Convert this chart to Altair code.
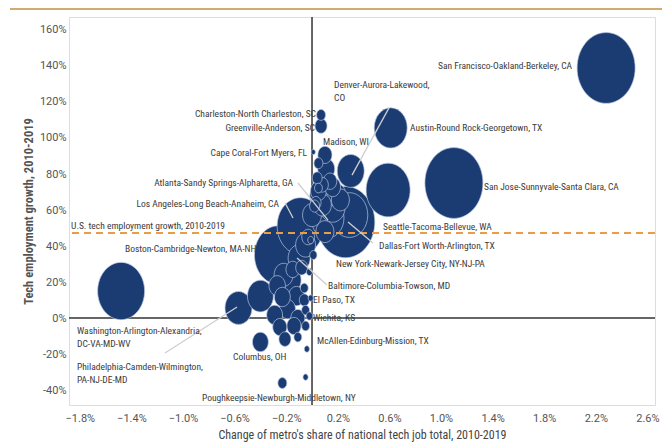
import altair as alt
import pandas as pd

# ---- metro data: change in share of national tech jobs (pp), tech job growth (%), tech jobs (thousands)
metros = [
    "San Francisco-Oakland-Berkeley, CA", "San Jose-Sunnyvale-Santa Clara, CA",
    "Seattle-Tacoma-Bellevue, WA", "Austin-Round Rock-Georgetown, TX",
    "Washington-Arlington-Alexandria, DC-VA-MD-WV", "New York-Newark-Jersey City, NY-NJ-PA",
    "Boston-Cambridge-Newton, MA-NH", "Los Angeles-Long Beach-Anaheim, CA",
    "Dallas-Fort Worth-Arlington, TX", "Atlanta-Sandy Springs-Alpharetta, GA",
    "Denver-Aurora-Lakewood, CO", "Philadelphia-Camden-Wilmington, PA-NJ-DE-MD",
    "Chicago-Naperville-Elgin, IL-IN-WI", "Baltimore-Columbia-Towson, MD",
    "Columbus, OH", "Madison, WI", "Charleston-North Charleston, SC",
    "Greenville-Anderson, SC", "Cape Coral-Fort Myers, FL",
    "Poughkeepsie-Newburgh-Middletown, NY", "McAllen-Edinburg-Mission, TX",
    "El Paso, TX", "Wichita, KS",
    "m24", "m25", "m26", "m27", "m28", "m29", "m30", "m31", "m32", "m33", "m34",
    "m35", "m36", "m37", "m38", "m39", "m40", "m41", "m42", "m43", "m44", "m45",
    "m46", "m47", "m48", "m49", "m50", "m51", "m52", "m53", "m54", "m55", "m56",
    "m57", "m58", "m59", "m60", "m61", "m62", "m63", "m64",
]
share_change = [
    2.28, 1.10, 0.59, 0.61, -1.48, 0.26, -0.26, -0.09, 0.29, 0.12, 0.30, -0.57,
    -0.40, -0.10, -0.40, 0.10, 0.07, 0.07, 0.01, -0.23, -0.04, -0.01, -0.02,
    -0.05, -0.21, -0.11, 0.11, 0.04, 0.06, 0.19, 0.02, 0.16, 0.05, -0.17, -0.12,
    -0.06, -0.19, -0.11, -0.05, -0.14, -0.05, -0.25, -0.06, -0.02, -0.01, -0.05,
    0.00, -0.22, 0.05, 0.08, 0.14, 0.03, 0.10, -0.03, -0.08, -0.15, -0.27, 0.01,
    0.05, 0.16, 0.08, 0.22, -0.29, -0.23,
]
growth = [
    138.9, 75.0, 71.1, 105.6, 15.0, 53.3, 35.0, 51.1, 57.2, 55.6, 81.7, 5.6,
    12.2, 33.3, -13.3, 90.6, 112.8, 106.7, 92.2, -36.1, -17.2, 11.1, 1.1,
    -32.8, -11.7, -10.6, 82.8, 77.8, 67.8, 68.3, 62.2, 61.7, 72.2, 21.1, 12.2,
    10.0, 5.0, 0.0, 4.4, -4.4, -4.4, -5.0, 16.7, 25.6, 43.3, 40.6, 57.2, 24.0,
    86.0, 74.0, 76.0, 64.0, 48.0, 45.0, 28.0, 27.0, 18.0, 35.0,
    70.6, 72.8, 62.8, 65.6, 1.7, 11.7,
]
tech_jobs = [
    374, 374, 215, 121, 245, 380, 256, 240, 150, 121, 81, 81,
    75, 54, 28, 22, 9, 16, 2, 9, 3, 3, 5,
    3, 16, 7, 32, 11, 44, 40, 11, 70, 7, 54, 28,
    11, 28, 22, 7, 22, 7, 22, 7, 4, 4, 44, 40, 40,
    9, 16, 20, 12, 36, 18, 16, 20, 30, 6,
    28, 28, 36, 36, 28, 28,
]

us_growth = 47.2

# ---- labels (text, x, y, alignment)
label_text = [
    "San Francisco-Oakland-Berkeley, CA", "Denver-Aurora-Lakewood,", "CO",
    "Austin-Round Rock-Georgetown, TX", "Madison, WI",
    "Charleston-North Charleston, SC", "Greenville-Anderson, SC",
    "Cape Coral-Fort Myers, FL", "Atlanta-Sandy Springs-Alpharetta, GA",
    "Los Angeles-Long Beach-Anaheim, CA", "U.S. tech employment growth, 2010-2019",
    "Boston-Cambridge-Newton, MA-NH", "San Jose-Sunnyvale-Santa Clara, CA",
    "Seattle-Tacoma-Bellevue, WA", "Dallas-Fort Worth-Arlington, TX",
    "New York-Newark-Jersey City, NY-NJ-PA", "Baltimore-Columbia-Towson, MD",
    "El Paso, TX", "Wichita, KS", "McAllen-Edinburg-Mission, TX",
    "Washington-Arlington-Alexandria,", "DC-VA-MD-WV",
    "Philadelphia-Camden-Wilmington,", "PA-NJ-DE-MD",
    "Columbus, OH", "Poughkeepsie-Newburgh-Middletown, NY",
]
label_x = [
    2.016, 0.171, 0.171, 0.760, 0.085, 0.031, 0.023, -0.039, -0.147, -0.256,
    -1.868, -0.432, 1.333, 0.550, 0.519, 0.186, 0.124, 0.008, 0.008, 0.039,
    -1.822, -1.822, -1.822, -1.822, -0.612, -0.853,
]
label_y = [
    140.0, 129.4, 122.2, 105.6, 97.8, 113.3, 105.6, 91.7, 75.0, 63.3,
    51.1, 38.3, 72.8, 50.6, 40.0, 30.0, 17.8, 10.0, 0.0, -12.8,
    -7.2, -14.4, -27.2, -34.4, -21.7, -44.4,
]
label_align = [
    "right", "left", "left", "left", "left", "right", "right", "right", "right", "right",
    "left", "right", "left", "left", "left", "left", "left", "left", "left", "left",
    "left", "left", "left", "left", "left", "left",
]

# ---- leader lines from labels to bubbles
leader_x1 = [0.597, -0.109, -0.209, 0.473, 0.116, -1.140]
leader_y1 = [116.7, 75.0, 63.9, 41.7, 18.3, -19.4]
leader_x2 = [0.310, 0.124, -0.147, 0.279, -0.116, -0.581]
leader_y2 = [79.4, 54.4, 55.6, 53.3, 33.3, 6.1]

x_ticks = [-1.8, -1.4, -1.0, -0.6, -0.2, 0.2, 0.6, 1.0, 1.4, 1.8, 2.2, 2.6]
y_ticks = [-40, -20, 0, 20, 40, 60, 80, 100, 120, 140, 160]

NAVY = "#1b3c73"
FONT = "Liberation Sans Narrow, Roboto Condensed, Roboto"
AXIS_FONT = "Roboto"
TEXT = "#3a3a3a"

bubbles = pd.DataFrame({"metro": metros, "share": share_change,
                        "growth": growth, "jobs": tech_jobs})
labels = pd.DataFrame({"text": label_text, "x": label_x, "y": label_y,
                       "align": label_align})
leaders = pd.DataFrame({"x": leader_x1, "y": leader_y1,
                        "x2": leader_x2, "y2": leader_y2})

xs = alt.Scale(domain=[-1.884, 2.659], nice=False, zero=False)
ys = alt.Scale(domain=[-48.3, 167.2], nice=False, zero=False)

x_axis = alt.Axis(values=x_ticks, labelExpr="format(datum.value, '.1f') + '%'",
                  title="Change of metro's share of national tech job total, 2010-2019",
                  grid=False, domain=False, ticks=False, labelPadding=7,
                  labelFontSize=11, labelColor="#555", labelFont=AXIS_FONT,
                  titleFont=FONT, titleFontSize=12, titleFontWeight="normal",
                  titleColor="#444", titlePadding=6)
y_axis = alt.Axis(values=y_ticks, labelExpr="datum.value + '%'",
                  title="Tech employment growth, 2010-2019",
                  grid=False, domain=False, ticks=False, labelPadding=3,
                  labelFontSize=11, labelColor="#555", labelFont=AXIS_FONT,
                  titleFont=FONT, titleFontSize=12.5, titleFontWeight="bold",
                  titleColor="#555", titlePadding=4)


def X(field):
    return alt.X(field, type="quantitative", scale=xs, axis=x_axis)


def Y(field):
    return alt.Y(field, type="quantitative", scale=ys, axis=y_axis)


# axes through zero
zero_v = alt.Chart(pd.DataFrame({"v": [0]})).mark_rule(
    color="#333", strokeWidth=1.5).encode(x=X("v"))
zero_h = alt.Chart(pd.DataFrame({"v": [0]})).mark_rule(
    color="#333", strokeWidth=1.5).encode(y=Y("v"))

ellipse = "M-1,0A1,1.22 0 1,0 1,0A1,1.22 0 1,0 -1,0Z"
points = alt.Chart(bubbles).mark_point(
    shape=ellipse, filled=True, fill=NAVY, fillOpacity=1,
    stroke="#b9c7e0", strokeWidth=0.8, strokeOpacity=0.85).encode(
    x=X("share"), y=Y("growth"),
    size=alt.Size("jobs:Q", scale=alt.Scale(domain=[0, 400], range=[0, 3600]), legend=None),
    order=alt.Order("jobs:Q", sort="descending"),
)

us_line = alt.Chart(pd.DataFrame({"g": [us_growth]})).mark_rule(
    color="#e99d48", strokeWidth=2, strokeDash=[7, 5]).encode(y=Y("g"))

leader_lines = alt.Chart(leaders).mark_rule(color="#cfcfcf", strokeWidth=1.3).encode(
    x=X("x"), y=Y("y"), x2="x2:Q", y2="y2:Q")


def text_layer(align):
    return alt.Chart(labels).transform_filter(
        alt.datum.align == align).mark_text(
        align=align, baseline="middle", font=FONT, fontSize=9.5, color=TEXT).encode(
        x=X("x"), y=Y("y"), text="text:N")


top_rule = alt.Chart(pd.DataFrame({"a": [0]})).mark_rule(
    color="#c98b45", strokeWidth=1.5).encode(
    x=alt.value(-59), x2=alt.value(593), y=alt.value(-8))

chart = alt.layer(
    top_rule, zero_v, zero_h, points, us_line, leader_lines,
    text_layer("left"), text_layer("right"),
).properties(
    width=586, height=388,
    padding={"left": 69, "top": 17, "right": 7, "bottom": 42},
    autosize=alt.AutoSizeParams(type="none"),
).configure_view(strokeWidth=0).configure(background="white")

chart.save("out.html", embed_options={"renderer": "svg", "actions": False})
